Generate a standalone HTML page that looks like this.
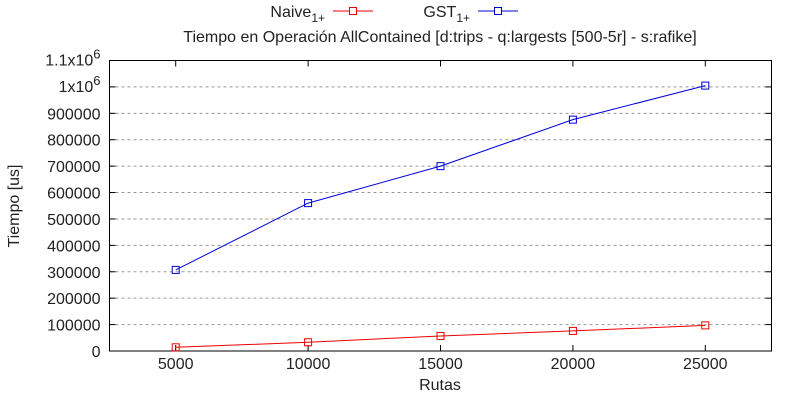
<!DOCTYPE html>
<html><head><meta charset="utf-8"><style>
body{margin:0;background:#fff}
svg text{font-family:"Liberation Sans",sans-serif;font-size:16px;fill:#222}
</style></head><body>
<svg id="c" width="800" height="400" xmlns="http://www.w3.org/2000/svg">
<g id="g"></g>
</svg>
<script>
const categories=[5000,10000,15000,20000,25000];
const naive=[14000,33000,57000,76000,97000];
const gst=[307000,560000,700000,876000,1005000];
const yTicks=[0,100000,200000,300000,400000,500000,600000,700000,800000,900000,1000000,1100000];
const yLabels=["0","100000","200000","300000","400000","500000","600000","700000","800000","900000","1x10^6","1.1x10^6"];
const L=109.5,R=771.5,T=60.5,B=351;
const xs=v=>L+(v-2500)/25000*(R-L);
const ys=v=>B-v/1100000*(B-T);
const g=document.getElementById('g');
const NS='http://www.w3.org/2000/svg';
function el(t,a,txt){const e=document.createElementNS(NS,t);for(const k in a)e.setAttribute(k,a[k]);if(txt!=null)e.textContent=txt;g.appendChild(e);return e;}
function span(parent,txt,attrs){const s=document.createElementNS(NS,'tspan');s.textContent=txt;for(const k in attrs)s.setAttribute(k,attrs[k]);parent.appendChild(s);return s;}
yTicks.forEach((v,i)=>{const y=ys(v);
 if(v>0&&v<1100000){const l=el('line',{x1:L,x2:R,y1:y,y2:y,stroke:'#999','stroke-dasharray':'3,3'});
 
 }
 el('line',{x1:L,x2:L+6,y1:y,y2:y,stroke:'#000'});el('line',{x1:R,x2:R-6,y1:y,y2:y,stroke:'#000'});
 const s=yLabels[i];let t;
 if(s.includes('^')){const [b,e]=s.split('^');t=el('text',{x:L-9,y:y+5,'text-anchor':'end'});
  span(t,b,{});span(t,e,{dy:'-7','font-size':'13'});}
 else t=el('text',{x:L-9,y:y+6,'text-anchor':'end'},s);
 
 
});
categories.forEach(c=>{const x=xs(c);
 el('line',{x1:x,x2:x,y1:B,y2:B-6,stroke:'#000'});el('line',{x1:x,x2:x,y1:T,y2:T+6,stroke:'#000'});
 const t=el('text',{x:x,y:B+18,'text-anchor':'middle'},String(c));
 
 
});
const fr=el('rect',{x:L,y:T,width:R-L,height:B-T,fill:'none',stroke:'#000'});


function series(d,col,name){
 const pl=el('polyline',{points:d.map((v,i)=>xs(categories[i])+','+ys(v)).join(' '),fill:'none',stroke:col});
 
 
 d.forEach((v,i)=>{const r=el('rect',{x:xs(categories[i])-3.5,y:ys(v)-3.5,width:7,height:7,fill:'none',stroke:col});
 
 });
}
series(naive,'#e00','naive');series(gst,'#00d','gst');
function legend(xEnd,label,col,name){
 const t=el('text',{x:xEnd,y:17,'text-anchor':'end'});
 span(t,label,{});span(t,'1+',{dy:'5','font-size':'12'});
 
 
 const l=el('line',{x1:xEnd+8,x2:xEnd+48,y1:11,y2:11,stroke:col});
 
 
 el('rect',{x:xEnd+24.5,y:7.5,width:7,height:7,fill:'#fff',stroke:col});
}
legend(325,'Naive','#e00','naive');legend(470,'GST','#00d','gst');
const ti=el('text',{x:440,y:42,'text-anchor':'middle'},'Tiempo en Operación AllContained [d:trips - q:largests [500-5r] - s:rafike]');


const xt=el('text',{x:440,y:390,'text-anchor':'middle'},'Rutas');


const yt=el('text',{x:0,y:0,'text-anchor':'middle',transform:'translate(19,206) rotate(-90)'},'Tiempo [us]');


</script>
</body></html>
